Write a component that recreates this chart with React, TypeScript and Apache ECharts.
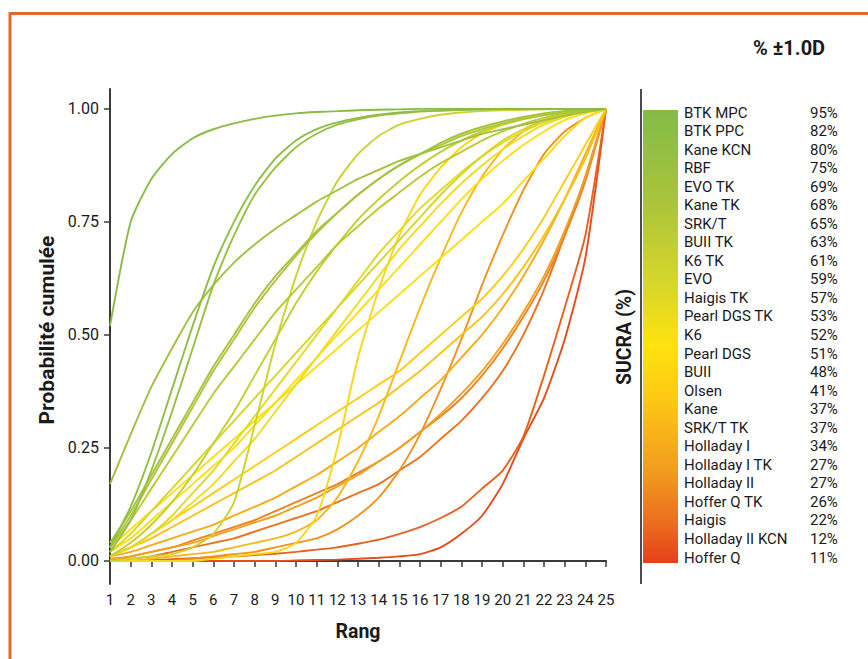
import React, { useEffect, useRef } from "react";
import * as echarts from "echarts";

// ---------- data ----------
const ranks = [1, 2, 3, 4, 5, 6, 7, 8, 9, 10, 11, 12, 13, 14, 15, 16, 17, 18, 19, 20, 21, 22, 23, 24, 25];
const yTickValues = [0, 0.25, 0.5, 0.75, 1];

const treatmentNames = [
  "BTK MPC", "BTK PPC", "Kane KCN", "RBF", "EVO TK", "Kane TK", "SRK/T", "BUII TK", "K6 TK", "EVO",
  "Haigis TK", "Pearl DGS TK", "K6", "Pearl DGS", "BUII", "Olsen", "Kane", "SRK/T TK", "Holladay I",
  "Holladay I TK", "Holladay II", "Hoffer Q TK", "Haigis", "Holladay II KCN", "Hoffer Q",
];
const sucraValues = [95, 82, 80, 75, 69, 68, 65, 63, 61, 59, 57, 53, 52, 51, 48, 41, 37, 37, 34, 27, 27, 26, 22, 12, 11];

const btkMpc = [0.52, 0.75, 0.845, 0.9, 0.935, 0.955, 0.968, 0.978, 0.985, 0.99, 0.993, 0.995, 0.997, 0.998, 0.999, 1, 1, 1, 1, 1, 1, 1, 1, 1, 1];
const btkPpc = [0.03, 0.12, 0.24, 0.38, 0.52, 0.65, 0.75, 0.83, 0.89, 0.93, 0.955, 0.97, 0.98, 0.987, 0.992, 0.995, 0.997, 0.998, 0.999, 1, 1, 1, 1, 1, 1];
const kaneKcn = [0.02, 0.09, 0.2, 0.33, 0.47, 0.61, 0.72, 0.81, 0.87, 0.915, 0.945, 0.965, 0.977, 0.985, 0.99, 0.994, 0.996, 0.998, 0.999, 1, 1, 1, 1, 1, 1];
const rbf = [0.17, 0.28, 0.385, 0.47, 0.55, 0.61, 0.66, 0.7, 0.735, 0.765, 0.795, 0.82, 0.845, 0.865, 0.885, 0.9, 0.915, 0.93, 0.945, 0.955, 0.965, 0.975, 0.985, 0.993, 1];
const evoTk = [0.04, 0.11, 0.19, 0.27, 0.35, 0.43, 0.5, 0.57, 0.63, 0.68, 0.73, 0.77, 0.81, 0.845, 0.875, 0.9, 0.925, 0.945, 0.96, 0.972, 0.982, 0.99, 0.995, 0.998, 1];
const kaneTk = [0.03, 0.1, 0.18, 0.26, 0.34, 0.42, 0.49, 0.56, 0.62, 0.675, 0.725, 0.77, 0.81, 0.845, 0.875, 0.9, 0.92, 0.94, 0.955, 0.968, 0.978, 0.986, 0.992, 0.997, 1];
const srkT = [0.03, 0.09, 0.16, 0.23, 0.3, 0.37, 0.43, 0.49, 0.55, 0.6, 0.65, 0.7, 0.74, 0.78, 0.815, 0.85, 0.88, 0.905, 0.93, 0.95, 0.967, 0.98, 0.99, 0.997, 1];
const buiiTk = [0.01, 0.04, 0.08, 0.13, 0.19, 0.26, 0.33, 0.41, 0.49, 0.57, 0.64, 0.7, 0.755, 0.8, 0.84, 0.875, 0.905, 0.93, 0.95, 0.965, 0.977, 0.987, 0.994, 0.998, 1];
const k6Tk = [0, 0.005, 0.01, 0.015, 0.03, 0.06, 0.13, 0.3, 0.48, 0.63, 0.75, 0.84, 0.9, 0.94, 0.965, 0.978, 0.987, 0.992, 0.995, 0.997, 0.998, 0.999, 1, 1, 1];
const evo = [0.02, 0.06, 0.11, 0.16, 0.21, 0.26, 0.31, 0.36, 0.41, 0.46, 0.51, 0.56, 0.61, 0.66, 0.71, 0.76, 0.81, 0.855, 0.895, 0.93, 0.955, 0.975, 0.988, 0.996, 1];
const haigisTk = [0.01, 0.03, 0.06, 0.1, 0.15, 0.2, 0.26, 0.32, 0.38, 0.44, 0.5, 0.56, 0.62, 0.68, 0.73, 0.78, 0.82, 0.86, 0.895, 0.925, 0.95, 0.97, 0.985, 0.995, 1];
const pearlDgsTk = [0.01, 0.03, 0.06, 0.09, 0.13, 0.17, 0.22, 0.27, 0.33, 0.39, 0.45, 0.51, 0.57, 0.63, 0.69, 0.74, 0.79, 0.835, 0.875, 0.91, 0.94, 0.965, 0.982, 0.994, 1];
const k6 = [0.03, 0.07, 0.11, 0.15, 0.19, 0.23, 0.27, 0.31, 0.35, 0.39, 0.43, 0.47, 0.51, 0.55, 0.59, 0.63, 0.67, 0.71, 0.75, 0.79, 0.84, 0.89, 0.94, 0.98, 1];
const pearlDgs = [0.02, 0.05, 0.09, 0.13, 0.17, 0.21, 0.25, 0.3, 0.35, 0.4, 0.45, 0.5, 0.55, 0.6, 0.65, 0.7, 0.75, 0.8, 0.845, 0.885, 0.92, 0.95, 0.975, 0.99, 1];
const buii = [0, 0, 0, 0, 0, 0.005, 0.01, 0.015, 0.02, 0.04, 0.1, 0.25, 0.45, 0.6, 0.72, 0.81, 0.87, 0.915, 0.945, 0.965, 0.98, 0.99, 0.995, 0.998, 1];
const olsen = [0.01, 0.03, 0.06, 0.09, 0.12, 0.15, 0.18, 0.21, 0.24, 0.27, 0.3, 0.33, 0.36, 0.39, 0.42, 0.46, 0.5, 0.54, 0.58, 0.63, 0.69, 0.76, 0.84, 0.92, 1];
const kane = [0.01, 0.03, 0.05, 0.075, 0.1, 0.125, 0.15, 0.175, 0.2, 0.23, 0.26, 0.29, 0.32, 0.35, 0.385, 0.42, 0.46, 0.5, 0.54, 0.59, 0.65, 0.72, 0.8, 0.89, 1];
const srkTTk = [0, 0, 0.005, 0.01, 0.015, 0.02, 0.03, 0.04, 0.05, 0.065, 0.09, 0.14, 0.22, 0.32, 0.44, 0.56, 0.67, 0.77, 0.85, 0.91, 0.95, 0.975, 0.99, 0.997, 1];
const holladayI = [0.01, 0.02, 0.035, 0.05, 0.065, 0.08, 0.1, 0.12, 0.14, 0.165, 0.19, 0.22, 0.25, 0.285, 0.32, 0.36, 0.4, 0.45, 0.5, 0.56, 0.63, 0.71, 0.8, 0.9, 1];
const holladayITk = [0.005, 0.01, 0.02, 0.03, 0.04, 0.055, 0.07, 0.085, 0.1, 0.12, 0.14, 0.165, 0.19, 0.22, 0.25, 0.285, 0.325, 0.37, 0.42, 0.48, 0.55, 0.63, 0.73, 0.85, 1];
const holladayII = [0, 0, 0, 0, 0.005, 0.01, 0.015, 0.02, 0.03, 0.04, 0.05, 0.07, 0.1, 0.14, 0.2, 0.28, 0.38, 0.49, 0.61, 0.72, 0.82, 0.9, 0.95, 0.98, 1];
const hofferQTk = [0, 0.01, 0.02, 0.03, 0.045, 0.06, 0.075, 0.09, 0.11, 0.13, 0.15, 0.17, 0.195, 0.22, 0.25, 0.285, 0.32, 0.36, 0.41, 0.47, 0.54, 0.62, 0.72, 0.84, 1];
const haigis = [0, 0.005, 0.01, 0.02, 0.03, 0.04, 0.05, 0.065, 0.08, 0.095, 0.11, 0.13, 0.15, 0.17, 0.2, 0.23, 0.27, 0.31, 0.36, 0.42, 0.5, 0.6, 0.72, 0.85, 1];
const holladayIIKcn = [0, 0, 0.002, 0.004, 0.006, 0.008, 0.01, 0.013, 0.016, 0.02, 0.025, 0.03, 0.038, 0.047, 0.06, 0.075, 0.095, 0.12, 0.16, 0.2, 0.275, 0.41, 0.56, 0.72, 1];
const hofferQ = [0, 0, 0, 0, 0, 0, 0, 0, 0, 0.001, 0.002, 0.003, 0.005, 0.007, 0.01, 0.015, 0.03, 0.06, 0.1, 0.17, 0.27, 0.36, 0.49, 0.67, 1];

const curves = [
  btkMpc, btkPpc, kaneKcn, rbf, evoTk, kaneTk, srkT, buiiTk, k6Tk, evo,
  haigisTk, pearlDgsTk, k6, pearlDgs, buii, olsen, kane, srkTTk, holladayI,
  holladayITk, holladayII, hofferQTk, haigis, holladayIIKcn, hofferQ,
];

// ---------- colours ----------
const gradientStops: [number, string][] = [
  [0, "#83bb47"],
  [0.2, "#a9c43b"],
  [0.38, "#d6d62a"],
  [0.52, "#ffe20e"],
  [0.65, "#fcc514"],
  [0.8, "#f29a1f"],
  [0.92, "#eb6a1e"],
  [1, "#e5401a"],
];

function hexToRgb(h: string) {
  const n = parseInt(h.slice(1), 16);
  return [(n >> 16) & 255, (n >> 8) & 255, n & 255];
}
function colorAt(t: number) {
  for (let i = 0; i < gradientStops.length - 1; i++) {
    const [t0, c0] = gradientStops[i];
    const [t1, c1] = gradientStops[i + 1];
    if (t >= t0 && t <= t1) {
      const f = (t - t0) / (t1 - t0);
      const a = hexToRgb(c0);
      const b = hexToRgb(c1);
      const m = a.map((v, k) => Math.round(v + (b[k] - v) * f));
      return `rgb(${m[0]},${m[1]},${m[2]})`;
    }
  }
  return gradientStops[gradientStops.length - 1][1];
}

const mainFont = "Roboto, 'Noto Sans', sans-serif";

export default function App() {
  const ref = useRef<HTMLDivElement>(null);

  useEffect(() => {
    if (!ref.current) return;
    const chart = echarts.init(ref.current, undefined, { renderer: "svg" });

    const n = treatmentNames.length;
    const barTop = 110;
    const barBottom = 563;
    const rowTop = 112.5;
    const rowStep = (557.5 - 112.5) / (n - 1);

    const series = curves
      .map((arr, i) => ({
        type: "line" as const,
        name: treatmentNames[i],
        data: ranks.map((r, k) => [r, arr[k]]),
        showSymbol: false,
        smooth: 0.2,
        lineStyle: { width: 1.9, color: colorAt((i + 0.5) / n) },
        z: 2,
      }))
      .reverse();

    const legendTexts: any[] = [];
    treatmentNames.forEach((name, i) => {
      const y = rowTop + i * rowStep;
      legendTexts.push({
        type: "text",
        x: 684,
        y,
        style: { text: name, fill: "#1a1a1a", fontSize: 15, fontFamily: mainFont, align: "left", verticalAlign: "middle" },
      });
      legendTexts.push({
        type: "text",
        x: 810,
        y,
        style: { text: sucraValues[i] + "%", fill: "#1a1a1a", fontSize: 15, fontFamily: mainFont, align: "left", verticalAlign: "middle" },
      });
    });

    chart.setOption({
      animation: false,
      backgroundColor: "#ffffff",
      grid: { left: 110, right: 262, top: 89, bottom: 75, containLabel: false },
      xAxis: {
        type: "value",
        min: 1,
        max: 25,
        interval: 1,
        axisLine: { show: true, lineStyle: { color: "#3a3a3a", width: 2 } },
        axisTick: { show: true, length: 6, lineStyle: { color: "#3a3a3a", width: 1.5 } },
        axisLabel: { color: "#1a1a1a", fontSize: 15, fontFamily: mainFont, margin: 8 },
        splitLine: { show: false },
      },
      yAxis: {
        type: "value",
        min: -0.051,
        max: 1.044,
        axisLine: { show: true, lineStyle: { color: "#3a3a3a", width: 2 } },
        axisTick: { show: true, length: 6, customValues: yTickValues, lineStyle: { color: "#3a3a3a", width: 1.5 } },
        axisLabel: {
          customValues: yTickValues,
          color: "#1a1a1a",
          fontSize: 16,
          fontFamily: mainFont,
          margin: 11,
          formatter: (v: number) => v.toFixed(2),
        },
        splitLine: { show: false },
      },
      series,
      graphic: [
        {
          type: "rect",
          shape: { x: 10, y: 13.5, width: 900, height: 700 },
          style: { fill: "none", stroke: "#e0692f", lineWidth: 3 },
          silent: true,
          z: 0,
        },
        {
          type: "text",
          x: 789,
          y: 48,
          style: { text: "% ±1.0D", fill: "#1a1a1a", fontSize: 20, fontWeight: "bold", fontFamily: mainFont, align: "center", verticalAlign: "middle" },
        },
        {
          type: "text",
          x: 47,
          y: 330,
          rotation: Math.PI / 2,
          style: { text: "Probabilité cumulée", fill: "#1a1a1a", fontSize: 21, fontWeight: "bold", fontFamily: mainFont, align: "center", verticalAlign: "middle" },
        },
        {
          type: "text",
          x: 358,
          y: 631,
          style: { text: "Rang", fill: "#1a1a1a", fontSize: 19.5, fontWeight: "bold", fontFamily: mainFont, align: "center", verticalAlign: "middle" },
        },
        {
          type: "text",
          x: 624,
          y: 337,
          rotation: Math.PI / 2,
          style: { text: "SUCRA (%)", fill: "#1a1a1a", fontSize: 19.5, fontWeight: "bold", fontFamily: mainFont, align: "center", verticalAlign: "middle" },
        },
        {
          type: "line",
          shape: { x1: 641, y1: 89, x2: 641, y2: 584 },
          style: { stroke: "#111111", lineWidth: 1.5 },
        },
        {
          type: "rect",
          shape: { x: 643, y: barTop, width: 35, height: barBottom - barTop },
          style: {
            fill: new echarts.graphic.LinearGradient(
              0, 0, 0, 1,
              gradientStops.map(([offset, color]) => ({ offset, color }))
            ),
          },
        },
        ...legendTexts,
      ],
    });

    return () => chart.dispose();
  }, []);

  return (
    <div
      ref={ref}
      style={{ position: "absolute", left: 0, top: 0, width: 868, height: 659, background: "#fff" }}
    />
  );
}
